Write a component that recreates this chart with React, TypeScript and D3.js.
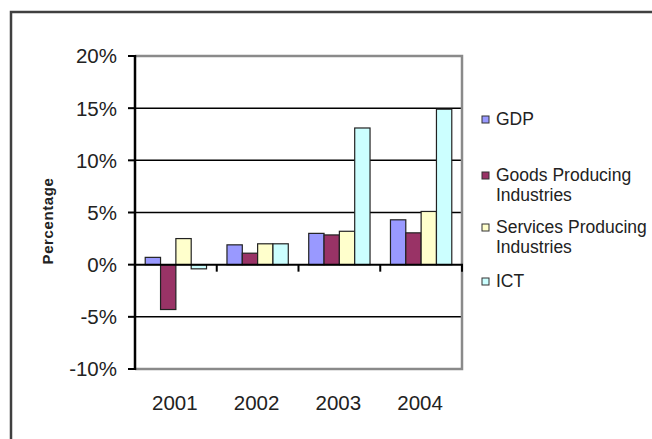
import React from "react";
import * as d3 from "d3";

const years = ["2001", "2002", "2003", "2004"];
const seriesNames = ["GDP", "Goods Producing Industries", "Services Producing Industries", "ICT"];
const legendLines = [["GDP"], ["Goods Producing", "Industries"], ["Services Producing", "Industries"], ["ICT"]];
const colors = ["#9999FF", "#993366", "#FFFFCC", "#CCFFFF"];
const gdp = [0.7, 1.9, 3.0, 4.3];
const goods = [-4.3, 1.1, 2.85, 3.05];
const services = [2.5, 2.0, 3.2, 5.1];
const ict = [-0.4, 2.0, 13.1, 14.9];
const yTicks = [-10, -5, 0, 5, 10, 15, 20];

const seriesValues = [gdp, goods, services, ict];

const W = 652;
const H = 439;
const plot = { left: 135, right: 462, top: 56, bottom: 369 };
const FONT = "'Liberation Sans', Arial, sans-serif";

export default function App() {
  const y = d3.scaleLinear().domain([-10, 20]).range([plot.bottom, plot.top]);
  const x0 = d3.scaleBand<string>().domain(years).range([plot.left, plot.right]).padding(0);
  const bw = x0.bandwidth();
  const x1 = d3
    .scaleBand<string>()
    .domain(seriesNames)
    .range([bw * 0.125, bw * 0.875])
    .padding(0);

  const y0 = y(0);
  const legendY = [122, 178, 230, 284];

  return (
    <svg
      width={W}
      height={H}
      style={{ position: "absolute", left: 0, top: 0, display: "block", background: "#fff" }}
    >
      {/* outer frame */}
      <path d={`M11,${H} V12 H${W}`} fill="none" stroke="#404040" strokeWidth={2.5} />

      {/* gridlines */}
      {yTicks
        .filter((t) => t !== -10 && t !== 20 && t !== 0)
        .map((t) => (
          <line key={"g" + t} x1={plot.left} x2={plot.right} y1={y(t)} y2={y(t)} stroke="#000" strokeWidth={1.5} />
        ))}

      {/* plot border (gray) */}
      <path
        d={`M${plot.left},${plot.top} H${plot.right} V${plot.bottom} H${plot.left}`}
        fill="none"
        stroke="#8a8a8a"
        strokeWidth={2.5}
      />

      {/* bars */}
      {years.map((yr, i) => (
        <g key={yr} transform={`translate(${x0(yr)},0)`}>
          {seriesNames.map((s, j) => {
            const v = seriesValues[j][i];
            const top = Math.min(y(v), y0);
            const h = Math.abs(y(v) - y0);
            return (
              <rect
                key={s}
                x={x1(s)}
                y={top}
                width={x1.bandwidth()}
                height={h}
                fill={colors[j]}
                stroke="#222"
                strokeWidth={1.2}
              />
            );
          })}
        </g>
      ))}

      {/* x axis at zero */}
      <line x1={plot.left} x2={plot.right + 1} y1={y0} y2={y0} stroke="#000" strokeWidth={2} />
      {years.map((yr) => (
        <line
          key={"xt" + yr}
          x1={(x0(yr) as number) + bw}
          x2={(x0(yr) as number) + bw}
          y1={y0}
          y2={y0 + 7}
          stroke="#000"
          strokeWidth={2}
        />
      ))}

      {/* y axis */}
      <line x1={plot.left} x2={plot.left} y1={plot.top - 1} y2={plot.bottom + 1} stroke="#000" strokeWidth={2.5} />
      {yTicks.map((t) => (
        <g key={"yt" + t}>
          <line x1={plot.left - 7} x2={plot.left} y1={y(t)} y2={y(t)} stroke="#000" strokeWidth={2} />
          <text
            x={117}
            y={y(t)}
            dy="0.36em"
            textAnchor="end"
            fontFamily={FONT}
            fontSize={20.5}
            fill="#222"
          >
            {t + "%"}
          </text>
        </g>
      ))}

      {/* x labels */}
      {years.map((yr) => (
        <text
          key={"xl" + yr}
          x={(x0(yr) as number) + bw / 2 - 1}
          y={410}
          textAnchor="middle"
          fontFamily={FONT}
          fontSize={20.5}
          fill="#222"
        >
          {yr}
        </text>
      ))}

      {/* y title */}
      <text
        transform={`translate(53,221) rotate(-90)`}
        textAnchor="middle"
        fontFamily={FONT}
        fontSize={15}
        fontWeight="bold"
        fill="#222"
        letterSpacing={0.6}
      >
        Percentage
      </text>

      {/* legend */}
      {seriesNames.map((s, j) => (
        <g key={"lg" + s}>
          <rect
            x={482}
            y={legendY[j] - 6}
            width={7}
            height={7}
            fill={colors[j]}
            stroke="#333"
            strokeWidth={1}
          />
          <text fontFamily={FONT} fontSize={17.5} fill="#222">
            {legendLines[j].map((ln, k) => (
              <tspan key={k} x={496} y={legendY[j] + 3 + k * 19.5}>
                {ln}
              </tspan>
            ))}
          </text>
        </g>
      ))}
    </svg>
  );
}
